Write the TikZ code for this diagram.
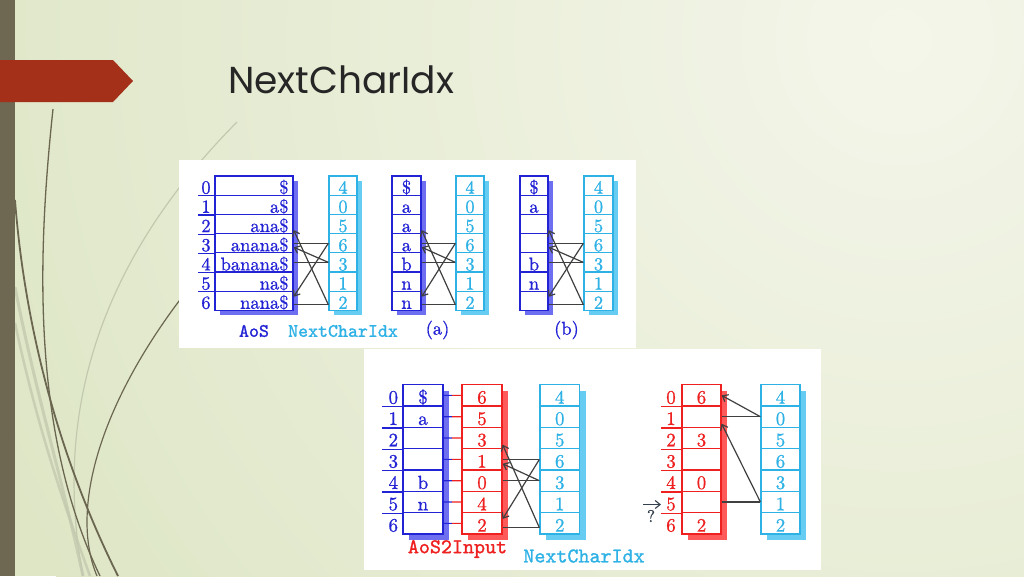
\documentclass[tikz,border=0pt]{standalone}
\usepackage{fontspec}
\newfontfamily\titlefont{Poppins}
\newfontfamily\dfont{lmroman10-regular}[Extension=.otf, FakeBold=0.9]
\newfontfamily\dmono{lmmono10-regular}[Extension=.otf, FakeBold=1.2]
\usetikzlibrary{arrows.meta,calc}
\definecolor{bgA}{HTML}{F4F6EA}
\definecolor{bgB}{HTML}{DEE6C6}
\definecolor{barcol}{HTML}{6E6852}
\definecolor{bannercol}{HTML}{A5301A}
\definecolor{titlecol}{HTML}{262626}
\definecolor{curvedark}{HTML}{6B6650}
\definecolor{curvelight}{HTML}{C3C9AE}
\definecolor{dblue}{HTML}{2323D6}
\definecolor{dblueS}{HTML}{6E6EF0}
\definecolor{dred}{HTML}{EE2020}
\definecolor{dredS}{HTML}{FF5A5A}
\definecolor{dcyan}{HTML}{2EB2E6}
\definecolor{dcyanS}{HTML}{66CCF2}
\definecolor{linkcol}{HTML}{404040}
\definecolor{qcol}{HTML}{33404D}
\def\shoff{5}
\newcommand\strip[9]{%
  \fill[#7] ({#2+\shoff},{#4+\shoff}) rectangle ({#3+\shoff},{#4+7*#5+\shoff});
  \foreach \t [count=\i from 0] in {#9} {%
    \node[cellnode, draw=#6, text=#6, minimum width={#3-#2}, minimum height={#5}, #8] (#1\i) at ({(#2+#3)/2},{#4+(\i+0.5)*#5}) {\t};
  }%
}
\newcommand\idxcol[5]{%
  \foreach \i in {0,...,6} {%
    \node[idxnode, text=#5] (#1\i) at (#2,{#3+(\i+0.5)*#4}) {\i};
  }%
}
\newcommand\crosslinks[3]{%
  \draw[link] (#13.east) -- (#23.west);
  \draw[link] (#14.east) -- (#24.west);
  \draw[link] ([yshift={-4*#3}]#16.east) -- ([yshift={-4*#3}]#26.west);
  \draw[link,tip] (#23.west) -- ([yshift={4*#3}]#16.east);
  \draw[link,tip] (#24.west) -- ([yshift={-4*#3}]#13.east);
  \draw[link,tip] ([yshift={-4*#3}]#26.west) -- ([yshift={-6*#3}]#12.east);
}
\begin{document}
\begin{tikzpicture}[x=1pt,y=-1pt,
  cellnode/.style={fill=white, line width=1.2pt, inner xsep=3pt, inner ysep=0pt, text height=16pt, text depth=0pt},
  idxnode/.style={inner sep=0pt, text height=16pt, text depth=0pt},
  link/.style={draw=linkcol, line width=1.2pt},
  tip/.style={-{Straight Barb[length=5pt,width=8pt]}},
  lbl/.style={inner sep=0pt, font=\dmono\fontsize{19}{19}\selectfont},
]
\useasboundingbox (0,0) rectangle (1024,576);
% background
\fill[bgB] (0,0) rectangle (1024,576);
\begin{scope}
  \clip (0,0) rectangle (1024,576);
  \shade[inner color=bgA, outer color=bgB] (900,40) circle (1000);
\end{scope}
% decorative curves
\draw[curvelight, line width=3pt, opacity=0.8] (15,287) .. controls (35,390) and (60,470) .. (83,576);
\draw[curvelight, line width=2.5pt, opacity=0.8] (15,323) .. controls (40,440) and (70,520) .. (90,576);
\draw[curvelight, line width=1.2pt] (237,122) .. controls (110,250) and (50,400) .. (83,576);
\draw[curvedark, line width=1.3pt] (53,109) .. controls (38,250) and (30,430) .. (100,576);
\draw[curvedark, line width=1.8pt] (15,200) .. controls (25,330) and (60,460) .. (118,576);
\draw[curvedark, line width=1.2pt] (230,240) .. controls (110,370) and (65,500) .. (97,576);
% left bar and banner
\fill[barcol] (0,0) rectangle (15,576);
\fill[bannercol] (0,60) -- (113,60) -- (133,81) -- (113,102) -- (0,102) -- cycle;
\node[anchor=base west, inner sep=0pt, font=\titlefont\fontsize{37.5}{37.5}\selectfont, text=titlecol] (title) at (228,93.3) {NextCharIdx};
% ---------- top image ----------
\fill[white] (179,160) rectangle (636,348);
\begin{scope}[font=\dfont\fontsize{18.5}{20}\selectfont]
  \strip{A}{215}{293}{176}{19.2}{dblue}{dblueS}{text width=69pt, align=right, inner xsep=4.5pt}{\$,a\$,ana\$,anana\$,banana\$,na\$,nana\$}
  \idxcol{Ai}{206}{176}{19.2}{dblue}
  \foreach \k in {0,...,5} \draw[dblue, line width=1.2pt] (A\k.south west) -- ++(-16,0);
  \strip{C}{329}{357}{176}{19.2}{dcyan}{dcyanS}{}{4,0,5,6,3,1,2}
  \crosslinks{A}{C}{1}
  \strip{Pa}{392}{421}{176}{19.2}{dblue}{dblueS}{}{\$,a,a,a,b,n,n}
  \strip{Ca}{456}{484}{176}{19.2}{dcyan}{dcyanS}{}{4,0,5,6,3,1,2}
  \crosslinks{Pa}{Ca}{1}
  \strip{Pb}{520}{548}{176}{19.2}{dblue}{dblueS}{}{\$,a,{},{},b,n,{}}
  \strip{Cb}{584}{613}{176}{19.2}{dcyan}{dcyanS}{}{4,0,5,6,3,1,2}
  \crosslinks{Pb}{Cb}{1}
  \node[lbl, text=dblue] (lAoS) at (254,331) {AoS};
  \node[lbl, text=dcyan] (lNCI) at (343,331) {NextCharIdx};
  \node[inner sep=0pt, text=dblue] (la) at (437.5,330) {(a)};
  \node[inner sep=0pt, text=dblue] (lb) at (566.5,330) {(b)};
\end{scope}
% ---------- bottom image ----------
\fill[white] (364,349) rectangle (821,570);
\def\shoff{6}
\begin{scope}[font=\dfont\fontsize{19}{20}\selectfont, cellnode/.append style={text height=16.5pt}, idxnode/.append style={text height=16.5pt}]
  \strip{B}{403}{443}{384.7}{21.33}{dblue}{dblueS}{}{\$,a,{},{},b,n,{}}
  \idxcol{Bi}{393.3}{384.7}{21.33}{dblue}
  \foreach \k in {0,...,5} \draw[dblue, line width=1.2pt] (B\k.south west) -- ++(-20,0);
  \strip{R}{462}{502}{384.7}{21.33}{dred}{dredS}{}{6,5,3,1,0,4,2}
  \foreach \i in {0,...,6} {
    \draw[dblue, line width=1.2pt] (B\i.east) -- ($(B\i.east)!0.47!(R\i.west)$);
    \draw[dred, line width=1.2pt] ($(B\i.east)!0.47!(R\i.west)$) -- (R\i.west);
  }
  \strip{D}{540}{579.5}{384.7}{21.33}{dcyan}{dcyanS}{}{4,0,5,6,3,1,2}
  \crosslinks{R}{D}{1.1}
  \node[lbl, font=\dmono\fontsize{21}{21}\selectfont, text=dred] (lA2I) at (457.5,549) {AoS2Input};
  \node[lbl, font=\dmono\fontsize{21}{21}\selectfont, text=dcyan] (lNCI2) at (584,556) {NextCharIdx};
  % right panel
  \strip{Q}{682}{721}{384.7}{21.33}{dred}{dredS}{}{6,{},3,{},0,{},2}
  \idxcol{Qi}{671}{384.7}{21.33}{dred}
  \foreach \k in {0,...,5} \draw[dred, line width=1.2pt] (Q\k.south west) -- ++(-20,0);
  \strip{E}{761}{800}{384.7}{21.33}{dcyan}{dcyanS}{}{4,0,5,6,3,1,2}
  \draw[link] (Q1.east) -- (E1.west);
  \draw[link,tip] (E1.west) -- (Q0.east);
  \draw[link] (Q5.east) -- (E5.west);
  \draw[link,tip] (E5.west) -- ([yshift=-7pt]Q1.east);
  \coordinate (qs) at (643,504.5);
  \coordinate (qe) at (661,504.5);
  \draw[qcol, line width=1.1pt, tip] (qs) -- (qe);
  \node[inner sep=0pt, text=qcol, font=\dfont\fontsize{17}{17}\selectfont] (qm) at (651,516) {?};
\end{scope}
\end{tikzpicture}
\end{document}
